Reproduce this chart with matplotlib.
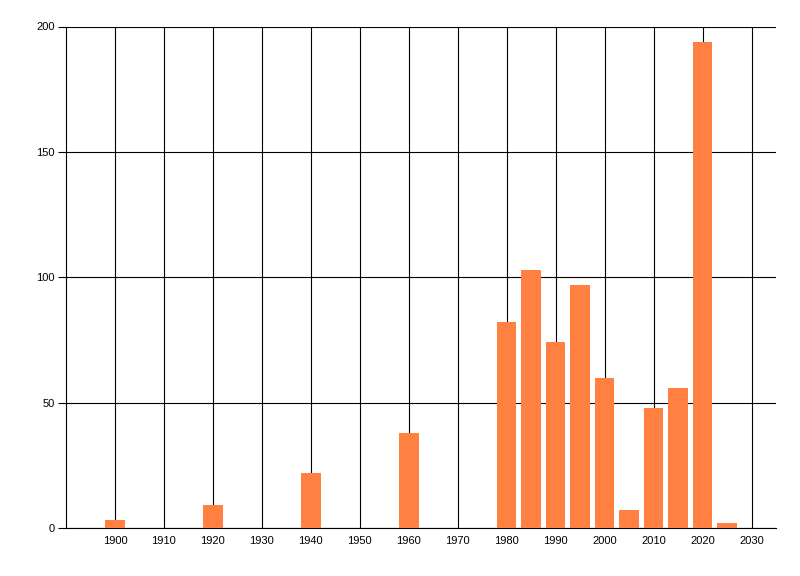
import matplotlib
matplotlib.use("Agg")
import matplotlib.pyplot as plt

years = [1900, 1920, 1940, 1960, 1980, 1985, 1990, 1995, 2000, 2005, 2010, 2015, 2020, 2025]
counts = [3, 9, 22, 38, 82, 103, 74, 97, 60, 7, 48, 56, 194, 2]
x_ticks = list(range(1900, 2031, 10))
y_ticks = [0, 50, 100, 150, 200]

plt.rcParams['font.family'] = ['Liberation Sans', 'DejaVu Sans']
fig = plt.figure(figsize=(8, 5.76), dpi=100)
ax = fig.add_axes([66/800, 1 - 528/576, (776 - 66)/800, (528 - 26.5)/576])

ax.bar(years, counts, width=4, color='#FF8040', zorder=3)
ax.set_xlim(1890, 2035)
ax.set_ylim(0, 200)
ax.set_xticks(x_ticks)
ax.set_yticks(y_ticks)
ax.set_xticklabels([str(t) for t in x_ticks], fontsize=8)
ax.set_yticklabels([str(t) for t in y_ticks], fontsize=8)
ax.grid(True, color='black', linewidth=0.8, zorder=0)
ax.set_axisbelow(True)
for s in ['top', 'right']:
    ax.spines[s].set_visible(False)
for s in ['left', 'bottom']:
    ax.spines[s].set_color('black')
    ax.spines[s].set_linewidth(0.8)
ax.tick_params(axis='x', length=0, pad=6)
ax.tick_params(axis='y', length=6, width=0.8, pad=2)

fig.savefig('out.png', dpi=100)
